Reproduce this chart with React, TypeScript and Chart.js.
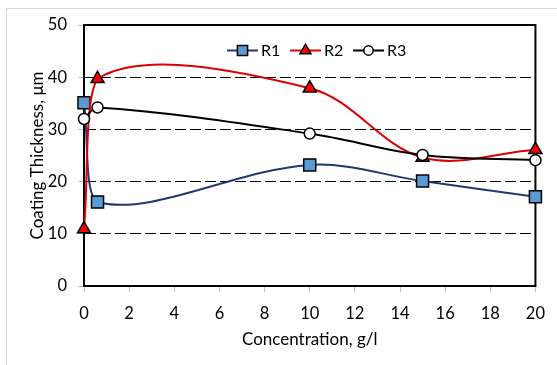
import React, { useEffect, useRef } from "react";
import { Chart, registerables } from "chart.js";

Chart.register(...registerables);

const seriesNames = ["R1", "R2", "R3"];
const concentration = [0, 0.6, 10, 15, 20];
const r1Values = [35.1, 16.1, 23.2, 20.1, 17.1];
const r2Values = [10.9, 39.7, 37.9, 24.6, 26.1];
const r3Values = [32.0, 34.2, 29.2, 25.1, 24.1];
const xTickValues = [0, 2, 4, 6, 8, 10, 12, 14, 16, 18, 20];
const yTickValues = [0, 10, 20, 30, 40, 50];

const FONT = "Lato, 'Open Sans', sans-serif";

type MarkerStyle = "rect" | "triangle" | "circle";
const styles = [
  { line: "#1F3A73", fill: "#5B9BD5", marker: "rect" as MarkerStyle, radius: 8.5 },
  { line: "#DD0000", fill: "#FF0000", marker: "triangle" as MarkerStyle, radius: 7.5 },
  { line: "#000000", fill: "#FFFFFF", marker: "circle" as MarkerStyle, radius: 5.5 },
];

function drawMarker(ctx: CanvasRenderingContext2D, kind: MarkerStyle, x: number, y: number, r: number, fill: string) {
  ctx.save();
  ctx.beginPath();
  if (kind === "rect") {
    const s = Math.SQRT1_2 * r;
    ctx.rect(x - s, y - s, 2 * s, 2 * s);
  } else if (kind === "triangle") {
    const w = r * Math.sqrt(3) / 2;
    ctx.moveTo(x, y - r);
    ctx.lineTo(x + w, y + r / 2);
    ctx.lineTo(x - w, y + r / 2);
    ctx.closePath();
  } else {
    ctx.arc(x, y, r, 0, Math.PI * 2);
  }
  ctx.fillStyle = fill;
  ctx.fill();
  ctx.lineWidth = 1.5;
  ctx.strokeStyle = "#000";
  ctx.setLineDash([]);
  ctx.stroke();
  ctx.restore();
}

const framePlugin = {
  id: "frame",
  beforeDatasetsDraw(chart: any) {
    const { ctx, chartArea } = chart;
    ctx.save();
    ctx.strokeStyle = "#000";
    ctx.lineWidth = 2;
    ctx.setLineDash([]);
    ctx.strokeRect(chartArea.left, chartArea.top, chartArea.right - chartArea.left, chartArea.bottom - chartArea.top);
    ctx.restore();
  },
};

const legendPlugin = {
  id: "customLegend",
  afterDatasetsDraw(chart: any) {
    const { ctx } = chart;
    const startX = 227;
    const y = 50.5;
    const spacing = 63;
    const lineW = 31;
    ctx.save();
    ctx.font = `16px ${FONT}`;
    ctx.textBaseline = "middle";
    ctx.textAlign = "left";
    seriesNames.forEach((name, i) => {
      const st = styles[i];
      const x0 = startX + i * spacing;
      ctx.beginPath();
      ctx.strokeStyle = st.line;
      ctx.lineWidth = 2;
      ctx.setLineDash([]);
      ctx.moveTo(x0, y);
      ctx.lineTo(x0 + lineW, y);
      ctx.stroke();
      drawMarker(ctx, st.marker, x0 + lineW / 2, y, st.radius * 0.85, st.fill);
      ctx.fillStyle = "#000";
      ctx.fillText(name, x0 + lineW + 3, y);
    });
    ctx.restore();
  },
};

export default function App() {
  const canvasRef = useRef<HTMLCanvasElement | null>(null);

  useEffect(() => {
    document.body.style.margin = "0";
    const canvas = canvasRef.current;
    if (!canvas) return;
    const allValues = [r1Values, r2Values, r3Values];
    const datasets = seriesNames.map((name, i) => ({
      label: name,
      data: concentration.map((c, j) => ({ x: c, y: allValues[i][j] })),
      borderColor: styles[i].line,
      backgroundColor: styles[i].fill,
      borderWidth: 2,
      pointStyle: styles[i].marker,
      pointRadius: styles[i].radius,
      pointBackgroundColor: styles[i].fill,
      pointBorderColor: "#000",
      pointBorderWidth: 1.5,
      tension: 0.35,
      showLine: true,
      clip: false as any,
      order: 2 - i,
    }));

    const chart = new Chart(canvas, {
      type: "scatter",
      data: { datasets },
      plugins: [framePlugin, legendPlugin],
      options: {
        animation: false,
        responsive: false,
        devicePixelRatio: 1,
        layout: { padding: { top: 25, right: 21, left: 0, bottom: 0 } },
        plugins: { legend: { display: false }, tooltip: { enabled: false } },
        scales: {
          x: {
            type: "linear",
            min: 0,
            max: 20,
            afterBuildTicks: (scale: any) => {
              scale.ticks = xTickValues.map((v) => ({ value: v }));
            },
            afterFit: (scale: any) => {
              scale.height = 79;
            },
            ticks: { color: "#000", font: { family: FONT, size: 16.5 }, padding: 12, maxRotation: 0, autoSkip: false },
            grid: { drawOnChartArea: false, drawTicks: true, tickLength: 6, tickColor: "#BFBFBF" },
            border: { display: true, color: "#BFBFBF", width: 1 },
            title: {
              display: true,
              text: "Concentration, g/l",
              color: "#000",
              font: { family: FONT, size: 17 },
              padding: { top: 0, bottom: 15 },
            },
          },
          y: {
            type: "linear",
            min: 0,
            max: 50,
            afterBuildTicks: (scale: any) => {
              scale.ticks = yTickValues.map((v) => ({ value: v }));
            },
            afterFit: (scale: any) => {
              scale.width = 84;
            },
            ticks: { color: "#000", font: { family: FONT, size: 16.5 }, padding: 11 },
            grid: {
              color: (c: any) => (c.tick && (c.tick.value === 0 || c.tick.value === 50) ? "rgba(0,0,0,0)" : "#000"),
              lineWidth: 1,
              tickBorderDash: [],
              drawTicks: true,
              tickLength: 6,
              tickColor: "#BFBFBF",
            },
            border: { display: true, color: "#BFBFBF", width: 1, dash: [11, 4] },
            title: {
              display: true,
              text: "Coating Thickness, μm",
              color: "#000",
              font: { family: FONT, size: 17 },
              padding: { top: 27, bottom: 0 },
            },
          },
        },
      },
    } as any);
    return () => chart.destroy();
  }, []);

  return (
    <div style={{ position: "relative", width: 557, height: 365, overflow: "hidden", background: "#fff" }}>
      <div
        style={{
          position: "absolute",
          left: 6,
          top: 8,
          width: 600,
          height: 400,
          borderLeft: "1px solid #D9D9D9",
          borderTop: "1px solid #D9D9D9",
        }}
      />
      <canvas ref={canvasRef} width={557} height={365} style={{ position: "absolute", left: 0, top: 0 }} />
    </div>
  );
}
